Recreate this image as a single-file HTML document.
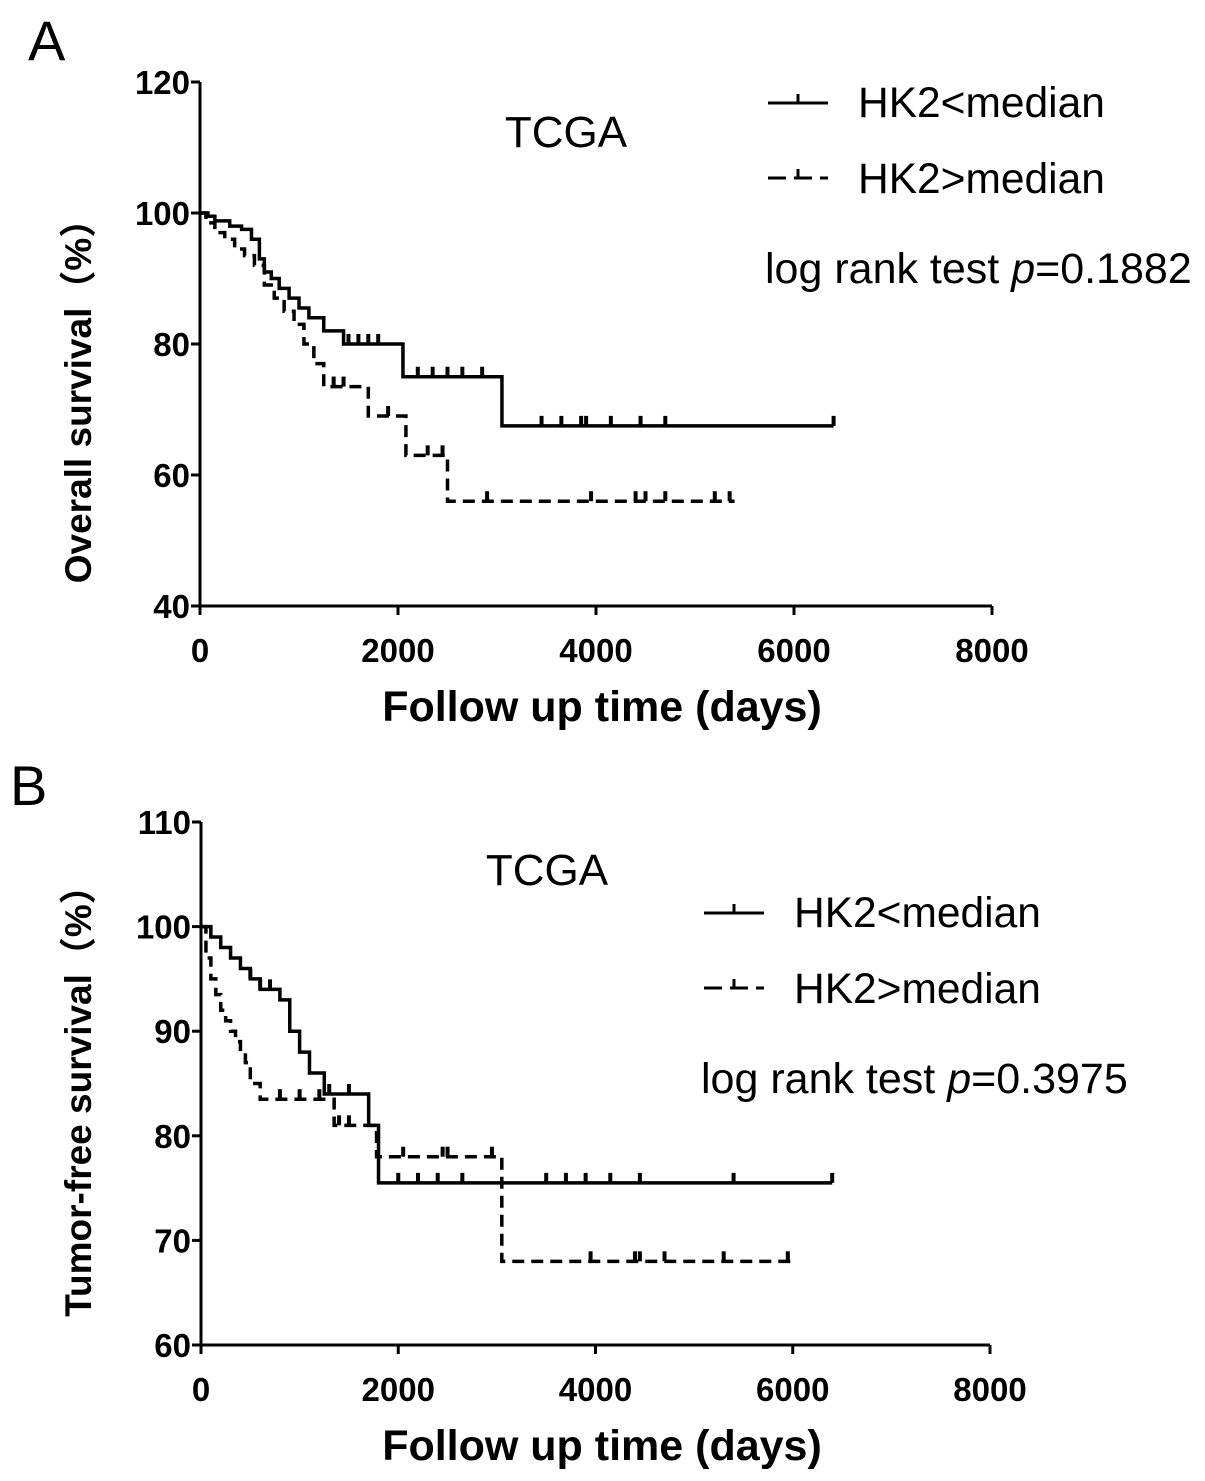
<!DOCTYPE html>
<html><head><meta charset="utf-8"><style>
body{margin:0;background:#fff}
svg{display:block;font-family:"Liberation Sans","Noto Sans CJK SC",sans-serif}
</style></head><body>
<svg id="s" width="1205" height="1481" viewBox="0 0 1205 1481"></svg>
<script>
// Panel A data
const aSolidT=[0,80,150,300,420,520,600,650,720,800,900,1000,1100,1250,1450,2050,3050,6400];
const aSolidV=[100,99.5,98.8,98,97.5,96,93,91,90,88.5,87,85.5,84,82,80,75,67.5,67.5];
const aSolidC=[1500,1600,1700,1800,2200,2350,2500,2650,2850,3450,3650,3850,3900,4150,4450,4700,6400];
const aDashT=[0,60,150,250,350,450,550,650,750,850,950,1050,1150,1250,1700,2080,2500,5400];
const aDashV=[100,98.5,97,96,94.5,93.5,92,89,87,85,83,80,77,73.5,69,63,56,56];
const aDashC=[1350,1450,1900,2300,2450,2900,3950,4400,4500,4700,5200,5350];
// Panel B data
const bSolidT=[0,100,200,300,400,500,600,800,900,1000,1100,1250,1700,1800,6400];
const bSolidV=[100,99,98,97,96,95,94,93,90,88,86,84,81,75.5,75.5];
const bSolidC=[500,600,700,1300,1500,2000,2200,2400,2650,3500,3700,3900,4150,4450,5400,6400];
const bDashT=[0,50,100,150,200,250,300,350,400,450,500,600,1350,1780,3050,6000];
const bDashV=[100,97,95,93.5,92,91,90,89,88,87,85,83.5,81,78,68,68];
const bDashC=[800,1000,1200,1400,1500,2050,2450,2500,2950,3950,4400,4450,4700,5300,5950];

const NS='http://www.w3.org/2000/svg';
const svg=document.getElementById('s');
function el(tag,attrs,parent){const e=document.createElementNS(NS,tag);for(const k in attrs)e.setAttribute(k,attrs[k]);(parent||svg).appendChild(e);return e;}

function panel(cfg){
  const g=el('g',{});
  
  
  const X=t=>cfg.x0+(t/8000)*(cfg.x1-cfg.x0);
  const Y=v=>cfg.y1-(v-cfg.vmin)/(cfg.vmax-cfg.vmin)*(cfg.y1-cfg.y0);
  const ax=el('path',{d:`M${cfg.x0},${cfg.y0}V${cfg.y1}H${cfg.x1}`,fill:'none',stroke:'#000','stroke-width':3},g);
  
  
  cfg.yt.forEach(v=>{
    el('line',{x1:cfg.x0-9,x2:cfg.x0,y1:Y(v),y2:Y(v),stroke:'#000','stroke-width':3},g);
    const t=el('text',{x:cfg.x0-10,y:Y(v)+12,'text-anchor':'end','font-size':33,'font-weight':'bold'},g);
    t.textContent=v;
    
    
  });
  [0,2000,4000,6000,8000].forEach(v=>{
    el('line',{x1:X(v),x2:X(v),y1:cfg.y1,y2:cfg.y1+9,stroke:'#000','stroke-width':3},g);
    const t=el('text',{x:X(v),y:cfg.y1+56,'text-anchor':'middle','font-size':33,'font-weight':'bold'},g);
    t.textContent=v;
    
    
  });
  const xt=el('text',{x:602,y:cfg.y1+115,'text-anchor':'middle','font-size':43,'font-weight':'bold'},g);
  xt.textContent='Follow up time (days)';
  
  
  const yt=el('text',{transform:`translate(91,${cfg.ytc}) rotate(-90)`,'text-anchor':'middle','font-size':37,'font-weight':'bold'},g);
  yt.textContent=cfg.ytitle;
  
  
  function curve(T,V,C,dash,name){
    let d=`M${X(T[0])},${Y(V[0])}`;
    for(let i=1;i<T.length;i++){d+=`H${X(T[i])}V${Y(V[i])}`;}
    const p=el('path',{d,fill:'none',stroke:'#000','stroke-width':3.5,'stroke-dasharray':dash?'12,7':'none'},g);
    
    
    C.forEach(c=>{
      let v=V[0];for(let i=0;i<T.length;i++){if(T[i]<=c)v=V[i];}
      const m=el('line',{x1:X(c),x2:X(c),y1:Y(v)-10,y2:Y(v),stroke:'#000','stroke-width':4},g);
      
      
    });
  }
  curve(cfg.sT,cfg.sV,cfg.sC,false,'curve-hk2-low');
  curve(cfg.dT,cfg.dV,cfg.dC,true,'curve-hk2-high');
  const lab=el('text',{x:cfg.lx,y:cfg.ly,'font-size':56},g);
  lab.textContent=cfg.letter;
  
  
  const tc=el('text',{x:cfg.tx,y:cfg.ty,'text-anchor':'middle','font-size':44},g);
  tc.textContent='TCGA';
  
  
  const L=cfg.legx, LY=cfg.legy;
  el('path',{d:`M${L},${LY}H${L+60}M${L+30},${LY}V${LY-9}`,stroke:'#000','stroke-width':3,fill:'none'},g);
  el('path',{d:`M${L},${LY+75}H${L+18}M${L+26},${LY+75}H${L+44}M${L+30},${LY+75}V${LY+66}M${L+52},${LY+75}H${L+60}`,stroke:'#000','stroke-width':3,fill:'none'},g);
  const l1=el('text',{x:L+90,y:LY+14,'font-size':42.5},g);l1.textContent='HK2<median';
  
  
  const l2=el('text',{x:L+90,y:LY+90,'font-size':42.5},g);l2.textContent='HK2>median';
  
  
  const pt=el('text',{x:L-3,y:LY+180,'font-size':43},g);
  pt.innerHTML='log rank test <tspan font-style="italic">p</tspan>='+cfg.p;
  
  
}
panel({name:'panel-a',x0:200,x1:992,y0:82,y1:606,vmin:40,vmax:120,yt:[40,60,80,100,120],ytc:392,
  ytitle:'Overall survival（%）',sT:aSolidT,sV:aSolidV,sC:aSolidC,dT:aDashT,dV:aDashV,dC:aDashC,
  letter:'A',lx:28,ly:60,tx:566,ty:147,legx:768,legy:103,p:'0.1882'});
panel({name:'panel-b',x0:201,x1:990,y0:822,y1:1345,vmin:60,vmax:110,yt:[60,70,80,90,100,110],ytc:1092,
  ytitle:'Tumor-free survival（%）',sT:bSolidT,sV:bSolidV,sC:bSolidC,dT:bDashT,dV:bDashV,dC:bDashC,
  letter:'B',lx:10,ly:805,tx:547,ty:885,legx:704,legy:913,p:'0.3975'});
</script>
</body></html>
